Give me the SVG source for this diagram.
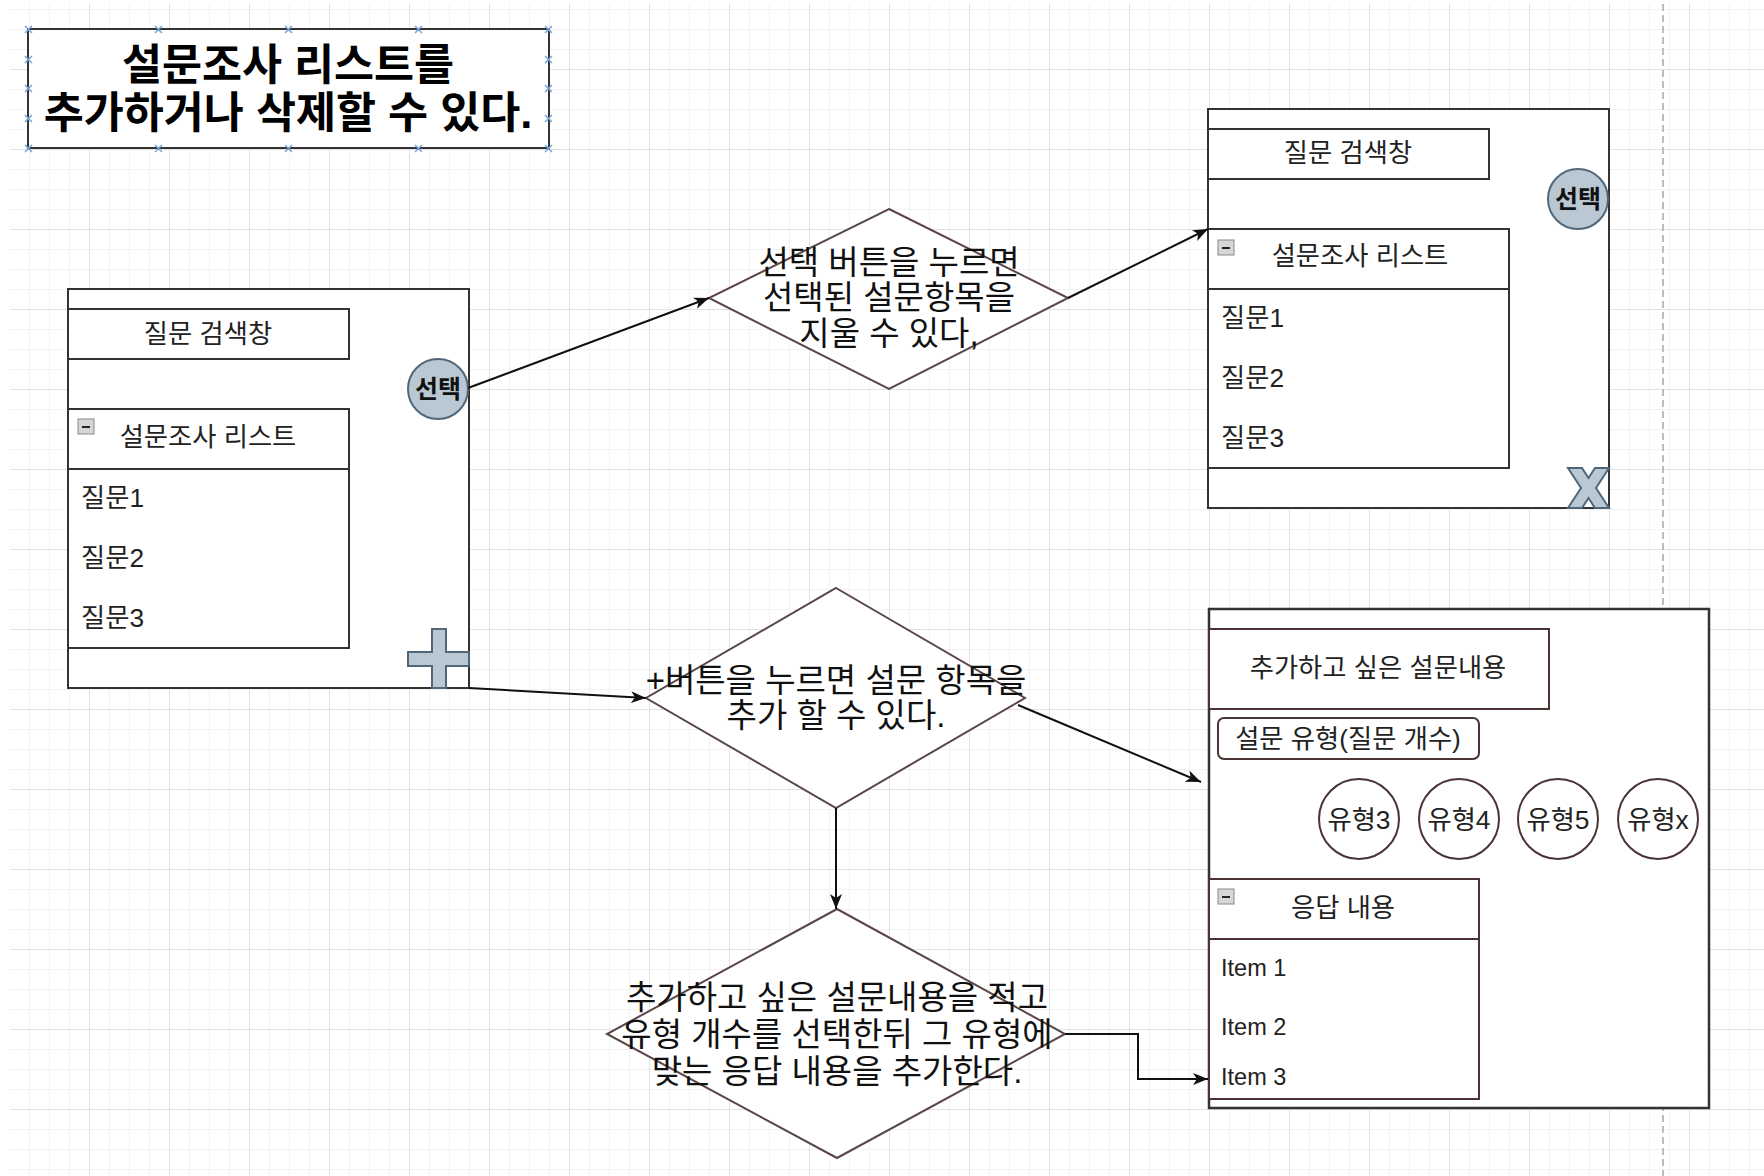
<svg xmlns="http://www.w3.org/2000/svg" width="1764" height="1176" viewBox="0 0 1764 1176">
<style>
.k{font-family:"Liberation Sans","Noto Sans CJK KR",sans-serif}
.title{font-size:43.5px;font-weight:bold;text-anchor:middle;fill:#000}
.dm{font-size:33px;text-anchor:middle;fill:#111}
.pn{font-size:26.3px;fill:#222}
.mid{text-anchor:middle}
.btn{font-size:25px;font-weight:bold;text-anchor:middle;fill:#111}
.item{font-size:23.5px;fill:#222}
.box{fill:#fff;stroke:#333;stroke-width:2}
.bbox{fill:#fff;stroke:#4a3333;stroke-width:2}
.dia{fill:#fff;stroke:#5a4646;stroke-width:2}
.gb{fill:#bac8d3;stroke:#50677a;stroke-width:2}
.edge{fill:none;stroke:#111;stroke-width:2}
.hdl{stroke:#7aa7d9;stroke-width:1.6}
</style>
<defs>
<pattern id="grid" patternUnits="userSpaceOnUse" x="9" y="69" width="80" height="80">
<rect x="20" y="0" width="1" height="80" fill="#f2f2f2"/>
<rect x="40" y="0" width="1" height="80" fill="#f2f2f2"/>
<rect x="60" y="0" width="1" height="80" fill="#f2f2f2"/>
<rect x="0" y="20" width="80" height="1" fill="#f2f2f2"/>
<rect x="0" y="40" width="80" height="1" fill="#f2f2f2"/>
<rect x="0" y="60" width="80" height="1" fill="#f2f2f2"/>
<rect x="0" y="0" width="1" height="80" fill="#e2e2e2"/>
<rect x="0" y="0" width="80" height="1" fill="#e2e2e2"/>
</pattern>
<marker id="arr" markerUnits="userSpaceOnUse" markerWidth="16" markerHeight="12" refX="15" refY="6" orient="auto">
<path d="M0,0 L15,6 L0,12 L4,6 Z" fill="#111"/>
</marker>
<g id="minus">
<rect x="0" y="0" width="16" height="15" fill="#d6d6d6" stroke="#8a8a8a" stroke-width="1"/>
<rect x="4" y="7" width="8" height="2" fill="#222"/>
</g>
</defs>
<rect x="0" y="0" width="1764" height="1176" fill="#fff"/>
<rect x="10" y="4" width="1754" height="1172" fill="url(#grid)"/>
<line x1="1663" y1="4" x2="1663" y2="1176" stroke="#a8a8a8" stroke-width="1.5" stroke-dasharray="7 4"/>

<g id="title">
<rect class="box" x="28" y="29" width="521" height="119"/>
<text class="k title" x="288" y="80">설문조사 리스트를</text>
<text class="k title" x="288" y="128">추가하거나 삭제할 수 있다.</text>
<g class="hdl">
<path d="M25,26 l7,7 M32,26 l-7,7 M155,26 l7,7 M162,26 l-7,7 M285,26 l7,7 M292,26 l-7,7 M415,26 l7,7 M422,26 l-7,7 M545,26 l7,7 M552,26 l-7,7"/>
<path d="M25,145 l7,7 M32,145 l-7,7 M155,145 l7,7 M162,145 l-7,7 M285,145 l7,7 M292,145 l-7,7 M415,145 l7,7 M422,145 l-7,7 M545,145 l7,7 M552,145 l-7,7"/>
<path d="M25,56 l7,7 M32,56 l-7,7 M25,85 l7,7 M32,85 l-7,7 M25,115 l7,7 M32,115 l-7,7"/>
<path d="M545,56 l7,7 M552,56 l-7,7 M545,85 l7,7 M552,85 l-7,7 M545,115 l7,7 M552,115 l-7,7"/>
</g>
</g>

<g id="panel-left">
<rect class="box" x="68" y="289" width="401" height="399"/>
<rect class="box" x="68" y="309" width="281" height="50"/>
<text class="k pn mid" x="208" y="343">질문 검색창</text>
<rect class="box" x="68" y="409" width="281" height="239"/>
<line x1="68" y1="469" x2="349" y2="469" stroke="#333" stroke-width="2"/>
<use href="#minus" x="78" y="419"/>
<text class="k pn mid" x="208" y="446">설문조사 리스트</text>
<text class="k pn" x="81" y="507">질문1</text>
<text class="k pn" x="81" y="567">질문2</text>
<text class="k pn" x="81" y="627">질문3</text>
<circle class="gb" cx="438" cy="389" r="30"/>
<text class="k btn" x="438" y="398">선택</text>
<polygon class="gb" points="432,629 446,629 446,652 469,652 469,666 446,666 446,688 432,688 432,666 408,666 408,652 432,652"/>
</g>

<g id="panel-delete">
<rect class="box" x="1208" y="109" width="401" height="399"/>
<rect class="box" x="1208" y="129" width="281" height="50"/>
<text class="k pn mid" x="1348" y="162">질문 검색창</text>
<rect class="box" x="1208" y="229" width="301" height="239"/>
<line x1="1208" y1="289" x2="1509" y2="289" stroke="#333" stroke-width="2"/>
<use href="#minus" x="1218" y="240"/>
<text class="k pn mid" x="1360" y="265">설문조사 리스트</text>
<text class="k pn" x="1221" y="327">질문1</text>
<text class="k pn" x="1221" y="387">질문2</text>
<text class="k pn" x="1221" y="447">질문3</text>
<circle class="gb" cx="1578" cy="199" r="30"/>
<text class="k btn" x="1578" y="208">선택</text>
<polygon class="gb" points="1568,468 1582,468 1588.5,478 1595,468 1609,468 1596,488 1609,508 1595,508 1588.5,498 1582,508 1568,508 1581,488"/>
</g>

<g id="panel-add">
<rect x="1209" y="609" width="500" height="499" fill="#fff" stroke="#333" stroke-width="2.5"/>
<rect class="bbox" x="1209" y="629" width="340" height="80"/>
<text class="k pn mid" x="1378" y="677">추가하고 싶은 설문내용</text>
<rect class="bbox" x="1218" y="718" width="261" height="41" rx="6"/>
<text class="k pn mid" x="1348" y="748">설문 유형(질문 개수)</text>
<circle class="bbox" cx="1359" cy="819" r="40"/>
<text class="k pn mid" x="1359" y="829">유형3</text>
<circle class="bbox" cx="1459" cy="819" r="40"/>
<text class="k pn mid" x="1459" y="829">유형4</text>
<circle class="bbox" cx="1558" cy="819" r="40"/>
<text class="k pn mid" x="1558" y="829">유형5</text>
<circle class="bbox" cx="1658" cy="819" r="40"/>
<text class="k pn mid" x="1658" y="829">유형x</text>
<rect class="bbox" x="1209" y="879" width="270" height="220"/>
<line x1="1209" y1="939" x2="1479" y2="939" stroke="#4a3333" stroke-width="2"/>
<use href="#minus" x="1218" y="889"/>
<text class="k pn mid" x="1343" y="917">응답 내용</text>
<text class="k item" x="1221" y="976">Item 1</text>
<text class="k item" x="1221" y="1035">Item 2</text>
<text class="k item" x="1221" y="1085">Item 3</text>
</g>

<g id="decision-delete">
<polygon class="dia" points="889,209 1068,298 889,389 709,298"/>
<text class="k dm" x="889" y="274">선택 버튼을 누르면</text>
<text class="k dm" x="889" y="309">선택된 설문항목을</text>
<text class="k dm" x="889" y="345">지울 수 있다,</text>
</g>

<g id="decision-add">
<polygon class="dia" points="836,588 1025,698 836,808 646,698"/>
<text class="k dm" x="836" y="692">+버튼을 누르면 설문 항목을</text>
<text class="k dm" x="836" y="727">추가 할 수 있다.</text>
</g>

<g id="decision-content">
<polygon class="dia" points="837,909 1065,1034 837,1158 607,1034"/>
<text class="k dm" x="837" y="1009">추가하고 싶은 설문내용을 적고</text>
<text class="k dm" x="837" y="1046">유형 개수를 선택한뒤 그 유형에</text>
<text class="k dm" x="837" y="1083">맞는 응답 내용을 추가한다.</text>
</g>

<g id="connectors">
<path class="edge" d="M468,388 L709,298" marker-end="url(#arr)"/>
<path class="edge" d="M1068,298 L1208,229" marker-end="url(#arr)"/>
<path class="edge" d="M469,688 L646,698" marker-end="url(#arr)"/>
<path class="edge" d="M1018,705 L1201,782" marker-end="url(#arr)"/>
<path class="edge" d="M836,808 L836,909" marker-end="url(#arr)"/>
<path class="edge" d="M1065,1034 L1138,1034 L1138,1079 L1208,1079" marker-end="url(#arr)"/>
</g>
</svg>
